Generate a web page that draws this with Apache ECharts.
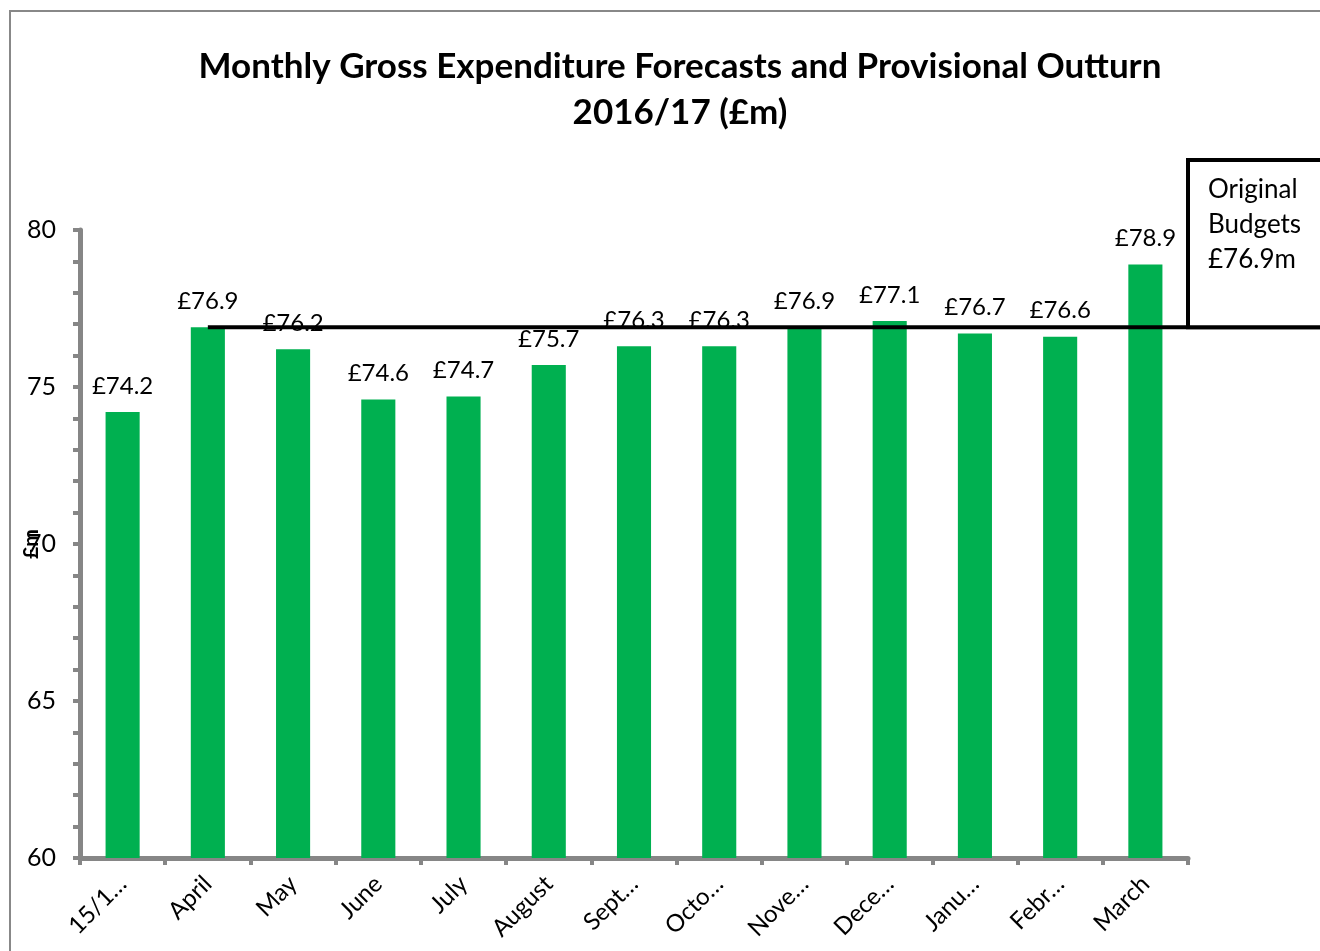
<!DOCTYPE html>
<html>
<head>
<meta charset="utf-8">
<script src="https://cdn.jsdelivr.net/npm/echarts@6/dist/echarts.min.js"></script>
<style>
  html, body { margin: 0; padding: 0; background: #fff; }
  #chart { width: 1320px; height: 951px; }
</style>
</head>
<body>
<div id="chart"></div>
<script>
const categories = ["15/1…", "April", "May", "June", "July", "August", "Sept…", "Octo…", "Nove…", "Dece…", "Janu…", "Febr…", "March"];
const forecasts = [74.2, 76.9, 76.2, 74.6, 74.7, 75.7, 76.3, 76.3, 76.9, 77.1, 76.7, 76.6, 78.9];
const budget = 76.9;
const budgetFrom = "April";
const yTicks = [60, 65, 70, 75, 80];

const font = "Lato, 'Open Sans', sans-serif";
const axisGrey = "#868686";
const gridLeft = 80, gridRight = 132, gridTop = 230, gridBottom = 93;

const chart = echarts.init(document.getElementById("chart"));
chart.setOption({
  animation: false,
  title: {
    text: "Monthly Gross Expenditure Forecasts and Provisional Outturn\n2016/17 (£m)",
    left: 675,
    textAlign: "center",
    top: 39,
    textStyle: {
      fontFamily: font,
      fontWeight: "bold",
      fontSize: 35,
      lineHeight: 46,
      color: "#000",
    },
  },
  grid: {
    left: gridLeft, right: gridRight, top: gridTop, bottom: gridBottom,
    containLabel: false, outerBoundsMode: "none",
  },
  xAxis: {
    type: "category",
    data: categories,
    axisLine: { lineStyle: { color: axisGrey, width: 5 } },
    axisTick: { show: true, length: 7, lineStyle: { color: axisGrey, width: 4 } },
    axisLabel: {
      interval: 0,
      rotate: 45,
      margin: 22,
      fontFamily: font,
      fontSize: 24,
      color: "#000",
    },
  },
  yAxis: {
    type: "value",
    min: yTicks[0],
    max: yTicks[yTicks.length - 1],
    interval: 5,
    name: "£m",
    nameLocation: "middle",
    nameGap: 38,
    nameMoveOverlap: false,
    nameTextStyle: { fontFamily: font, fontWeight: "bold", fontSize: 21, color: "#000" },
    axisLine: { show: true, lineStyle: { color: axisGrey, width: 5 } },
    axisTick: { show: true, length: 7, lineStyle: { color: axisGrey, width: 4 } },
    minorTick: { show: true, splitNumber: 5, length: 7, lineStyle: { color: axisGrey, width: 4 } },
    splitLine: { show: false },
    axisLabel: { margin: 24, fontFamily: font, fontSize: 25, color: "#000" },
  },
  series: [
    {
      type: "bar",
      data: forecasts,
      barWidth: "40%",
      itemStyle: { color: "#00B050" },
      label: {
        show: true,
        position: "top",
        distance: 14,
        formatter: (p) => "£" + p.value.toFixed(1),
        fontFamily: font,
        fontSize: 24,
        color: "#000",
      },
    },
  ],
});

// budget line and box, placed through the chart's own scales
const start = chart.convertToPixel({ seriesIndex: 0 }, [budgetFrom, budget]);
const boxLeft = 1320 - gridRight;
chart.setOption({
  graphic: [
    {
      type: "rect",
      z: 0,
      shape: { x: 10, y: 11, width: 1400, height: 1000 },
      style: { fill: null, stroke: "#888", lineWidth: 2 },
    },
    {
      type: "line",
      z: 100,
      shape: { x1: start[0], y1: start[1], x2: 1330, y2: start[1] },
      style: { stroke: "#000", lineWidth: 4 },
    },
    {
      type: "rect",
      z: 100,
      shape: { x: boxLeft, y: 160, width: 200, height: start[1] - 160 },
      style: { fill: "#fff", stroke: "#000", lineWidth: 4 },
    },
    {
      type: "text",
      z: 101,
      left: boxLeft + 20,
      top: 172,
      style: {
        text: "Original\nBudgets\n£76.9m",
        fontFamily: font,
        fontSize: 26,
        lineHeight: 35,
        fill: "#000",
      },
    },
  ],
});
</script>
</body>
</html>
